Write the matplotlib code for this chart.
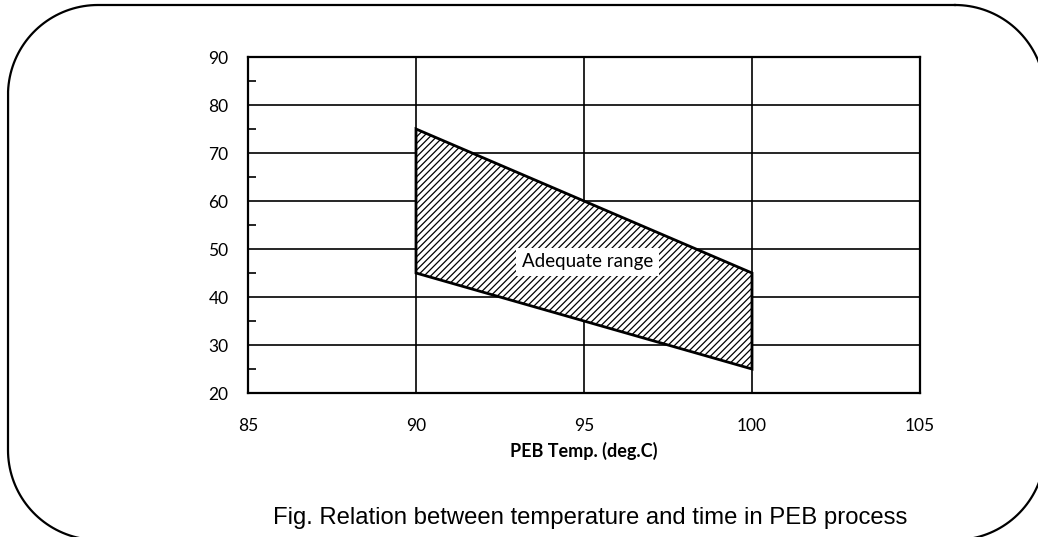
import matplotlib
matplotlib.use("Agg")
import numpy as np
import matplotlib.pyplot as plt
from matplotlib.lines import Line2D
from matplotlib.patches import Polygon
from matplotlib.ticker import MultipleLocator

# データ（PEB温度と時間の適正範囲）
temp = [90, 100, 100, 90]
time_val = [75, 45, 25, 45]
x_ticks = [85, 90, 95, 100, 105]
y_ticks = [20, 30, 40, 50, 60, 70, 80, 90]

plt.rcParams['font.family'] = ['Lato', 'DejaVu Sans']
plt.rcParams['hatch.linewidth'] = 0.9

fig = plt.figure(figsize=(10.38, 5.37), dpi=100)
W, H = 1038, 537

# 外枠（角丸、ピクセル座標で円弧を作る）
left, right, top, bottom, r = 8, 1045, H - 5, H - 540, 90
centers = [(right - r, top - r, 90, 0), (right - r, bottom + r, 0, -90),
           (left + r, bottom + r, -90, -180), (left + r, top - r, 180, 90)]
fx, fy = [], []
for cx, cy, a0, a1 in centers:
    ang = np.radians(np.linspace(a0, a1, 40))
    fx.extend(cx + r * np.cos(ang))
    fy.extend(cy + r * np.sin(ang))
fx.append(fx[0])
fy.append(fy[0])
fig.add_artist(Line2D(fx, fy, transform=None, color='black', linewidth=1.6))

ax = fig.add_axes([248 / W, 1 - 393 / H, (920 - 248) / W, (393 - 57) / H])
ax.set_xlim(85, 105)
ax.set_ylim(20, 90)
ax.set_xticks(x_ticks)
ax.set_yticks(y_ticks)
ax.yaxis.set_minor_locator(MultipleLocator(5))
ax.grid(True, which='major', color='black', linewidth=1.2)
ax.tick_params(axis='both', which='major', length=0, labelsize=12.5)
ax.tick_params(axis='x', which='major', pad=18)
ax.tick_params(axis='y', which='major', pad=14)
ax.tick_params(axis='y', which='minor', direction='in', length=6, width=1.2)
for s in ax.spines.values():
    s.set_linewidth(1.6)

poly = Polygon(list(zip(temp, time_val)), closed=True, facecolor='white',
               edgecolor='black', hatch='/////', linewidth=2, zorder=3)
ax.add_patch(poly)

ax.text(95.1, 47.3, "Adequate range", ha='center', va='center', fontsize=13.5,
        zorder=4, bbox=dict(facecolor='white', edgecolor='none', pad=4))

ax.set_xlabel("PEB Temp. (deg.C)", fontsize=13, fontweight='bold', labelpad=6)

fig.text(590 / W, 1 - 518 / H,
         "Fig. Relation between temperature and time in PEB process",
         ha='center', va='center', fontsize=17.2,
         family=['Liberation Sans', 'DejaVu Sans'])

fig.savefig("out.png", dpi=100)
